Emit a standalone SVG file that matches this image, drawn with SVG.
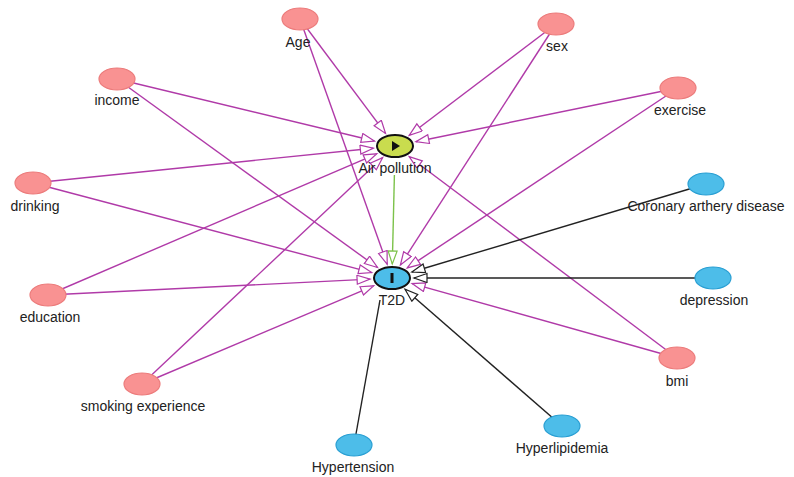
<svg xmlns="http://www.w3.org/2000/svg" width="794" height="477" viewBox="0 0 794 477">
<style>
.bg{fill:#ffffff}
.adj{fill:#f99292;stroke:#ec7c7c;stroke-width:1.2}
.out{fill:#4dbde9;stroke:#2a9fd3;stroke-width:1.2}
.exp{fill:#c9dc4e;stroke:#111;stroke-width:2}
.t2d{fill:#4dbde9;stroke:#111;stroke-width:2}
.lbl{font-family:"Liberation Sans",Arial,sans-serif;font-size:14px;fill:#222;text-anchor:middle}
.e{fill:none;stroke-width:1.4}
.m{stroke:#b03aa8}
.k{stroke:#222}
.g{stroke:#7cc24a}
</style>
<defs>
<marker id="am" markerUnits="userSpaceOnUse" markerWidth="16" markerHeight="12" refX="14" refY="5" orient="auto"><path d="M1,0.5 L14,5 L1,9.5 Z" fill="#fff" stroke="#b03aa8" stroke-width="1.2"/></marker>
<marker id="ak" markerUnits="userSpaceOnUse" markerWidth="16" markerHeight="12" refX="14" refY="5" orient="auto"><path d="M1,0.5 L14,5 L1,9.5 Z" fill="#fff" stroke="#222" stroke-width="1.2"/></marker>
<marker id="ag" markerUnits="userSpaceOnUse" markerWidth="16" markerHeight="12" refX="14" refY="5" orient="auto"><path d="M1,0.5 L14,5 L1,9.5 Z" fill="#fff" stroke="#7cc24a" stroke-width="1.2"/></marker>
</defs>
<rect class="bg" x="0" y="0" width="794" height="477"/>
<g id="connectors">
<line class="e m" x1="300" y1="19" x2="385.5" y2="133.4" marker-end="url(#am)"/>
<line class="e m" x1="556" y1="24" x2="409.2" y2="135.3" marker-end="url(#am)"/>
<line class="e m" x1="117" y1="79" x2="374.4" y2="141" marker-end="url(#am)"/>
<line class="e m" x1="678" y1="88" x2="415.9" y2="141.7" marker-end="url(#am)"/>
<line class="e m" x1="33" y1="183" x2="373.3" y2="148.2" marker-end="url(#am)"/>
<line class="e m" x1="48" y1="295" x2="376.8" y2="153.8" marker-end="url(#am)"/>
<line class="e m" x1="142" y1="384" x2="382.7" y2="157.6" marker-end="url(#am)"/>
<line class="e m" x1="677" y1="358" x2="409.2" y2="156.7" marker-end="url(#am)"/>
<line class="e g" x1="394.4" y1="175" x2="392.3" y2="264" marker-end="url(#ag)"/>
<line class="e m" x1="300" y1="19" x2="387.2" y2="264.3" marker-end="url(#am)"/>
<line class="e m" x1="556" y1="24" x2="400.4" y2="265" marker-end="url(#am)"/>
<line class="e m" x1="117" y1="79" x2="377.5" y2="267.5" marker-end="url(#am)"/>
<line class="e m" x1="678" y1="88" x2="407.2" y2="267.9" marker-end="url(#am)"/>
<line class="e m" x1="33" y1="183" x2="371.7" y2="272.6" marker-end="url(#am)"/>
<line class="e m" x1="48" y1="295" x2="370.1" y2="279.1" marker-end="url(#am)"/>
<line class="e m" x1="142" y1="384" x2="373.7" y2="285.8" marker-end="url(#am)"/>
<line class="e m" x1="677" y1="358" x2="412.1" y2="283.6" marker-end="url(#am)"/>
<line class="e k" x1="706" y1="184" x2="411.9" y2="272" marker-end="url(#ak)"/>
<line class="e k" x1="713" y1="278" x2="414" y2="278" marker-end="url(#ak)"/>
<line class="e k" x1="562" y1="426" x2="405" y2="289.3" marker-end="url(#ak)"/>
<line class="e k" x1="354" y1="445" x2="380" y2="300"/>
</g>
<g id="node-age"><ellipse class="adj" cx="300" cy="19" rx="18" ry="11"/><text class="lbl" x="298" y="47">Age</text></g>
<g id="node-sex"><ellipse class="adj" cx="556" cy="24" rx="18" ry="11"/><text class="lbl" x="557" y="51">sex</text></g>
<g id="node-income"><ellipse class="adj" cx="117" cy="79" rx="18" ry="11"/><text class="lbl" x="117" y="105">income</text></g>
<g id="node-exercise"><ellipse class="adj" cx="678" cy="88" rx="18" ry="11"/><text class="lbl" x="680" y="115">exercise</text></g>
<g id="node-drinking"><ellipse class="adj" cx="33" cy="183" rx="18" ry="11"/><text class="lbl" x="35" y="211">drinking</text></g>
<g id="node-education"><ellipse class="adj" cx="48" cy="295" rx="18" ry="11"/><text class="lbl" x="50" y="322">education</text></g>
<g id="node-smoking"><ellipse class="adj" cx="142" cy="384" rx="18" ry="11"/><text class="lbl" x="143" y="411">smoking experience</text></g>
<g id="node-bmi"><ellipse class="adj" cx="677" cy="358" rx="18" ry="11"/><text class="lbl" x="677" y="386">bmi</text></g>
<g id="node-air"><ellipse class="exp" cx="395" cy="146" rx="18" ry="11"/><path d="M392,141 L400,146 L392,151 Z" fill="#111"/><text class="lbl" x="395" y="173">Air pollution</text></g>
<g id="node-t2d"><ellipse class="t2d" cx="392" cy="278" rx="18" ry="11"/><rect x="390.5" y="273" width="3" height="10" fill="#111"/><text class="lbl" x="392" y="305">T2D</text></g>
<g id="node-cad"><ellipse class="out" cx="706" cy="184" rx="18" ry="11"/><text class="lbl" x="706" y="211">Coronary arthery disease</text></g>
<g id="node-depression"><ellipse class="out" cx="713" cy="278" rx="18" ry="11"/><text class="lbl" x="714" y="305">depression</text></g>
<g id="node-hyperlipidemia"><ellipse class="out" cx="562" cy="426" rx="18" ry="11"/><text class="lbl" x="562" y="453">Hyperlipidemia</text></g>
<g id="node-hypertension"><ellipse class="out" cx="354" cy="445" rx="18" ry="11"/><text class="lbl" x="353" y="472">Hypertension</text></g>
</svg>
